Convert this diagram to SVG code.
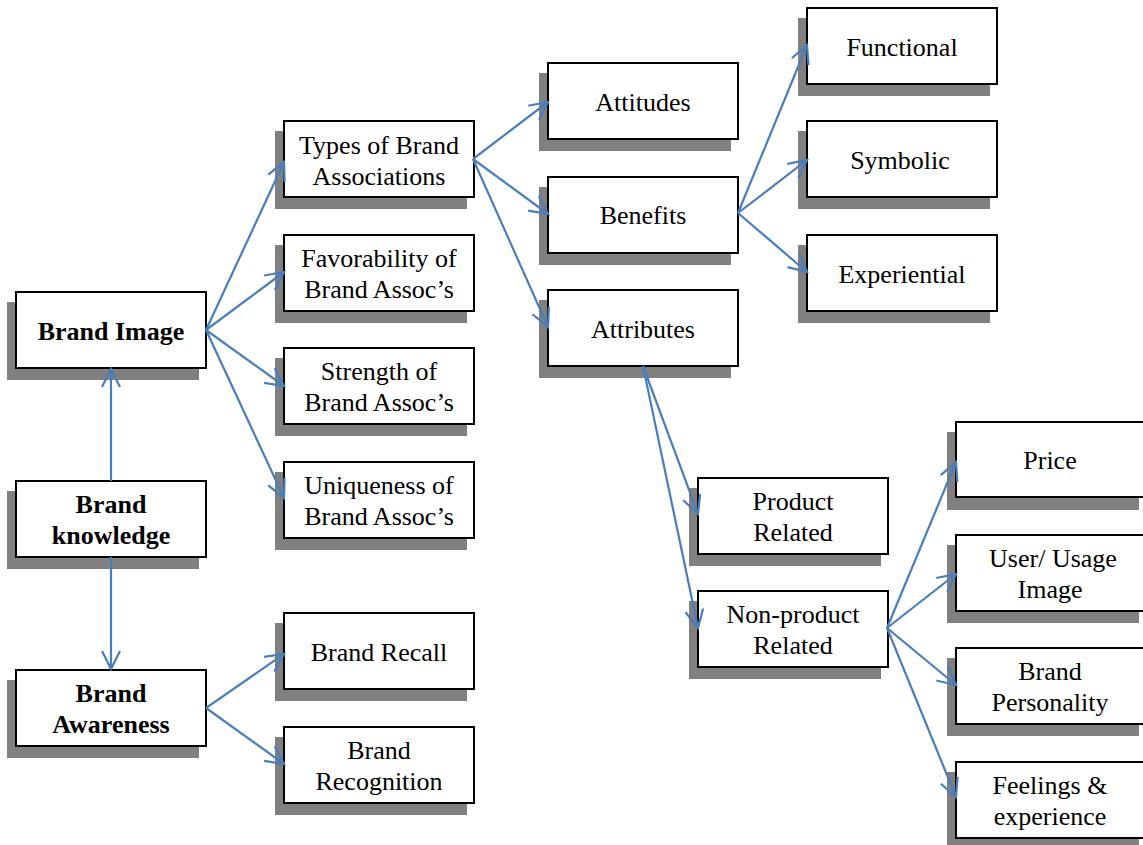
<svg xmlns="http://www.w3.org/2000/svg" width="1143" height="845" viewBox="0 0 1143 845">
<defs>
<style>
.sh{fill:#808080}
.bx{fill:#fff;stroke:#000;stroke-width:2}
.t{font-family:"Liberation Serif","Times New Roman",serif;font-size:26px;fill:#000;text-anchor:middle}
.b{font-weight:bold}
.c{stroke:#4A7EBB;stroke-width:2.2;fill:none;marker-end:url(#ah)}
</style>
<marker id="ah" markerUnits="userSpaceOnUse" viewBox="-5 0 30 30" markerWidth="30" markerHeight="30" refX="17" refY="15" orient="auto">
<path d="M-1,6 L17,15 L-1,24" fill="none" stroke="#4A7EBB" stroke-width="2.2"/>
</marker>
</defs>
<rect width="1143" height="845" fill="#fff"/>

<g id="brand-image"><rect class="sh" x="7" y="302" width="192" height="78"/><rect class="bx" x="16" y="292" width="190" height="76"/><text class="t b" x="111" y="340">Brand Image</text></g>
<g id="brand-knowledge"><rect class="sh" x="7" y="491" width="192" height="78"/><rect class="bx" x="16" y="481" width="190" height="76"/><text class="t b" x="111" y="513">Brand</text><text class="t b" x="111" y="544">knowledge</text></g>
<g id="brand-awareness"><rect class="sh" x="7" y="680" width="192" height="78"/><rect class="bx" x="16" y="670" width="190" height="76"/><text class="t b" x="111" y="702">Brand</text><text class="t b" x="111" y="733">Awareness</text></g>

<g id="types"><rect class="sh" x="275" y="131" width="192" height="78"/><rect class="bx" x="284" y="121" width="190" height="76"/><text class="t" x="379" y="154">Types of Brand</text><text class="t" x="379" y="185">Associations</text></g>
<g id="favorability"><rect class="sh" x="275" y="245" width="192" height="78"/><rect class="bx" x="284" y="235" width="190" height="76"/><text class="t" x="379" y="267">Favorability of</text><text class="t" x="379" y="298">Brand Assoc’s</text></g>
<g id="strength"><rect class="sh" x="275" y="358" width="192" height="78"/><rect class="bx" x="284" y="348" width="190" height="76"/><text class="t" x="379" y="380">Strength of</text><text class="t" x="379" y="411">Brand Assoc’s</text></g>
<g id="uniqueness"><rect class="sh" x="275" y="472" width="192" height="78"/><rect class="bx" x="284" y="462" width="190" height="76"/><text class="t" x="379" y="494">Uniqueness of</text><text class="t" x="379" y="525">Brand Assoc’s</text></g>
<g id="brand-recall"><rect class="sh" x="275" y="623" width="192" height="78"/><rect class="bx" x="284" y="613" width="190" height="76"/><text class="t" x="379" y="661">Brand Recall</text></g>
<g id="brand-recognition"><rect class="sh" x="275" y="737" width="192" height="78"/><rect class="bx" x="284" y="727" width="190" height="76"/><text class="t" x="379" y="759">Brand</text><text class="t" x="379" y="790">Recognition</text></g>

<g id="attitudes"><rect class="sh" x="539" y="73" width="192" height="78"/><rect class="bx" x="548" y="63" width="190" height="76"/><text class="t" x="643" y="111">Attitudes</text></g>
<g id="benefits"><rect class="sh" x="539" y="187" width="192" height="78"/><rect class="bx" x="548" y="177" width="190" height="76"/><text class="t" x="643" y="224">Benefits</text></g>
<g id="attributes"><rect class="sh" x="539" y="300" width="192" height="78"/><rect class="bx" x="548" y="290" width="190" height="76"/><text class="t" x="643" y="338">Attributes</text></g>

<g id="functional"><rect class="sh" x="798" y="18" width="192" height="78"/><rect class="bx" x="807" y="8" width="190" height="76"/><text class="t" x="902" y="56">Functional</text></g>
<g id="symbolic"><rect class="sh" x="798" y="131" width="192" height="78"/><rect class="bx" x="807" y="121" width="190" height="76"/><text class="t" x="900" y="169">Symbolic</text></g>
<g id="experiential"><rect class="sh" x="798" y="245" width="192" height="78"/><rect class="bx" x="807" y="235" width="190" height="76"/><text class="t" x="902" y="283">Experiential</text></g>

<g id="product-related"><rect class="sh" x="689" y="488" width="192" height="78"/><rect class="bx" x="698" y="478" width="190" height="76"/><text class="t" x="793" y="510">Product</text><text class="t" x="793" y="541">Related</text></g>
<g id="non-product-related"><rect class="sh" x="689" y="601" width="192" height="78"/><rect class="bx" x="698" y="591" width="190" height="76"/><text class="t" x="793" y="623">Non-product</text><text class="t" x="793" y="654">Related</text></g>

<g id="price"><rect class="sh" x="947" y="432" width="192" height="78"/><rect class="bx" x="956" y="422" width="190" height="75"/><text class="t" x="1050" y="469">Price</text></g>
<g id="user-usage"><rect class="sh" x="947" y="545" width="192" height="78"/><rect class="bx" x="956" y="535" width="190" height="76"/><text class="t" x="1053" y="567">User/ Usage</text><text class="t" x="1050" y="598">Image</text></g>
<g id="brand-personality"><rect class="sh" x="947" y="658" width="192" height="78"/><rect class="bx" x="956" y="648" width="190" height="76"/><text class="t" x="1050" y="680">Brand</text><text class="t" x="1050" y="711">Personality</text></g>
<g id="feelings"><rect class="sh" x="947" y="772" width="192" height="78"/><rect class="bx" x="956" y="762" width="190" height="76"/><text class="t" x="1050" y="794">Feelings &amp;</text><text class="t" x="1050" y="825">experience</text></g>

<g id="connectors">
<line class="c" x1="111" y1="481" x2="111" y2="369"/>
<line class="c" x1="111" y1="557" x2="111" y2="669"/>
<line class="c" x1="206" y1="330" x2="284" y2="162"/>
<line class="c" x1="206" y1="330" x2="284" y2="272"/>
<line class="c" x1="206" y1="330" x2="284" y2="386"/>
<line class="c" x1="206" y1="330" x2="284" y2="498"/>
<line class="c" x1="206" y1="708" x2="284" y2="654"/>
<line class="c" x1="206" y1="708" x2="284" y2="764"/>
<line class="c" x1="473" y1="159" x2="548" y2="102"/>
<line class="c" x1="473" y1="159" x2="548" y2="214"/>
<line class="c" x1="473" y1="159" x2="548" y2="327"/>
<line class="c" x1="738" y1="213" x2="807" y2="45"/>
<line class="c" x1="738" y1="213" x2="807" y2="160"/>
<line class="c" x1="738" y1="213" x2="807" y2="272"/>
<line class="c" x1="643" y1="366" x2="698" y2="514"/>
<line class="c" x1="643" y1="366" x2="698" y2="628"/>
<line class="c" x1="887" y1="628" x2="956" y2="462"/>
<line class="c" x1="887" y1="628" x2="956" y2="574"/>
<line class="c" x1="887" y1="628" x2="956" y2="685"/>
<line class="c" x1="887" y1="628" x2="956" y2="797"/>
</g>
</svg>
